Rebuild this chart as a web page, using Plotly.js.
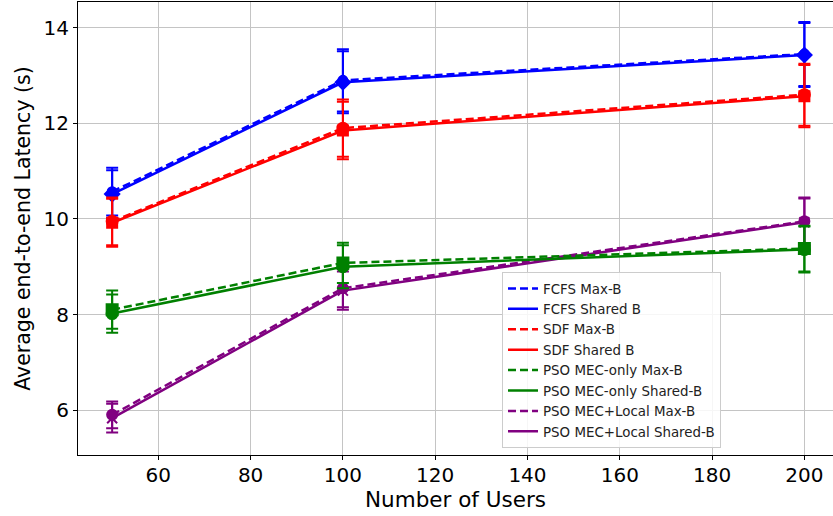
<!DOCTYPE html>
<html>
<head>
<meta charset="utf-8">
<script src="https://cdn.plot.ly/plotly-3.0.1.min.js"></script>
<style>html,body{margin:0;padding:0;background:#fff;}#chart{width:833px;height:516px;}</style>
</head>
<body>
<div id="chart"></div>
<script>
// ---- data ----
const users = [50, 100, 200];

const fcfsMaxB = [10.57, 12.90, 13.45];
const fcfsMaxBErr = [0.50, 0.65, 0.67];
const fcfsShared = [10.52, 12.86, 13.43];
const fcfsSharedErr = [0.50, 0.65, 0.67];

const sdfMaxB = [9.95, 11.90, 12.60];
const sdfMaxBErr = [0.50, 0.60, 0.65];
const sdfShared = [9.92, 11.85, 12.57];
const sdfSharedErr = [0.50, 0.60, 0.65];

const psoMecMaxB = [8.10, 9.08, 9.38];
const psoMecMaxBErr = [0.40, 0.42, 0.48];
const psoMecShared = [8.02, 9.00, 9.36];
const psoMecSharedErr = [0.40, 0.45, 0.48];

const psoLocalMaxB = [5.90, 8.55, 9.95];
const psoLocalMaxBErr = [0.28, 0.40, 0.50];
const psoLocalShared = [5.83, 8.50, 9.93];
const psoLocalSharedErr = [0.30, 0.40, 0.50];

const seriesNames = [
  'FCFS Max-B', 'FCFS Shared B', 'SDF Max-B', 'SDF Shared B',
  'PSO MEC-only Max-B', 'PSO MEC-only Shared-B', 'PSO MEC+Local Max-B', 'PSO MEC+Local Shared-B'
];
const xTicks = [60, 80, 100, 120, 140, 160, 180, 200];
const yTicks = [6, 8, 10, 12, 14];

// ---- styles ----
const seriesDefs = [
  {y: fcfsMaxB, e: fcfsMaxBErr, color: '#0000ff', dash: '8px,4px', symbol: 'circle', size: 9},
  {y: fcfsShared, e: fcfsSharedErr, color: '#0000ff', dash: 'solid', symbol: 'diamond', size: 11},
  {y: sdfMaxB, e: sdfMaxBErr, color: '#ff0000', dash: '8px,4px', symbol: 'circle', size: 11},
  {y: sdfShared, e: sdfSharedErr, color: '#ff0000', dash: 'solid', symbol: 'square', size: 10},
  {y: psoMecMaxB, e: psoMecMaxBErr, color: '#008000', dash: '8px,4px', symbol: 'square', size: 11},
  {y: psoMecShared, e: psoMecSharedErr, color: '#008000', dash: 'solid', symbol: 'circle', size: 11},
  {y: psoLocalMaxB, e: psoLocalMaxBErr, color: '#800080', dash: '8px,4px', symbol: 'circle', size: 10},
  {y: psoLocalShared, e: psoLocalSharedErr, color: '#800080', dash: 'solid', symbol: 'x-thin-open', size: 10}
];

// draw order: purple before green so green markers sit on top
const drawOrder = [0, 1, 2, 3, 6, 7, 4, 5];

const traces = [];
drawOrder.forEach(i => {
  const s = seriesDefs[i];
  traces.push({
    x: users, y: s.y, type: 'scatter', mode: 'lines+markers',
    name: seriesNames[i], showlegend: false,
    line: {color: s.color, width: 2.5, dash: s.dash},
    marker: {color: s.color, symbol: s.symbol, size: s.size, line: {color: s.color, width: 2}},
    error_y: {type: 'data', array: s.e, visible: true, color: s.color, thickness: 2, width: 6}
  });
});
// legend entries (lines only)
seriesDefs.forEach((s, i) => {
  traces.push({
    x: [null], y: [null], type: 'scatter', mode: 'lines',
    name: seriesNames[i], showlegend: true,
    line: {color: s.color, width: 2.5, dash: s.dash}
  });
});

const font = 'DejaVu Sans, sans-serif';
const layout = {
  width: 833, height: 516,
  margin: {l: 78, r: 0, t: 2, b: 61},
  paper_bgcolor: '#ffffff', plot_bgcolor: '#ffffff',
  font: {family: font, color: '#000000'},
  showlegend: true,
  legend: {
    x: 0.5616, y: 0.015, xanchor: 'left', yanchor: 'bottom',
    bgcolor: 'rgba(255,255,255,0.85)', bordercolor: '#cccccc', borderwidth: 1,
    font: {family: font, size: 13.4, color: '#222'},
    tracegroupgap: 0
  },
  xaxis: {
    range: [42.6, 206.2], tickvals: xTicks, ticktext: xTicks.map(String),
    showgrid: true, gridcolor: '#c4c4c4', gridwidth: 1,
    showline: true, linecolor: '#000', linewidth: 1, mirror: true,
    ticks: 'outside', ticklen: 4, tickcolor: '#000', tickwidth: 1,
    ticklabelstandoff: -2,
    tickfont: {family: font, size: 20, color: '#000'},
    zeroline: false,
    title: {text: 'Number of Users', font: {family: font, size: 21.5, color: '#000'}, standoff: 3}
  },
  yaxis: {
    range: [5.06, 14.54], tickvals: yTicks, ticktext: yTicks.map(String),
    showgrid: true, gridcolor: '#c4c4c4', gridwidth: 1,
    showline: true, linecolor: '#000', linewidth: 1, mirror: false,
    ticks: 'outside', ticklen: 4, tickcolor: '#000', tickwidth: 1,
    tickfont: {family: font, size: 20, color: '#000'},
    zeroline: false,
    title: {text: 'Average end-to-end Latency (s)', font: {family: font, size: 20.5, color: '#000'}, standoff: 7}
  }
};

Plotly.newPlot('chart', traces, layout, {staticPlot: true, displayModeBar: false});
</script>
</body>
</html>
